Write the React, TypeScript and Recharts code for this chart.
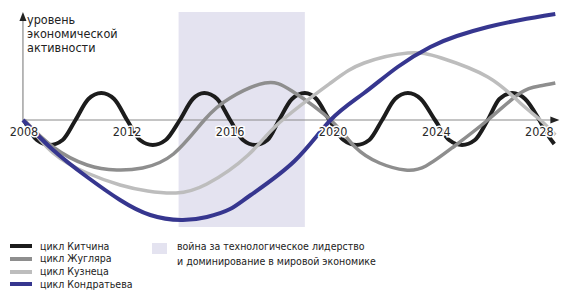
import { Line, LineChart, ReferenceArea, ReferenceLine, XAxis, YAxis } from "recharts";

const FONT = "'Liberation Sans Narrow', 'DejaVu Sans Condensed', 'Arial Narrow', sans-serif";

// years on the x axis, values = height above the zero line
const kitchinYears = [
  2008, 2008.5, 2009, 2009.5, 2010, 2010.5, 2011, 2011.5, 2012, 2012.5, 2013, 2013.5, 2014.05, 2014.55, 2015,
  2015.5, 2016, 2016.5, 2016.97, 2017.45, 2017.9, 2018.4, 2018.9, 2019.35, 2019.85, 2020.4, 2020.9, 2021.4,
  2021.9, 2022.4, 2022.9, 2023.4, 2023.95, 2024.5, 2025, 2025.5, 2026, 2026.45, 2026.95, 2027.45, 2028, 2028.3,
  2028.58,
];
const kitchinValues = [
  0, -20, -25, -20, 0, 21, 27, 21, 0, -20, -25, -20, 0, 21, 27, 21, 0, -20, -25, -20, 0, 21, 27, 21, 0, -20, -25,
  -20, 0, 21, 27, 21, 0, -20, -25, -20, 0, 21, 27, 21, 0, -14, -24,
];

const juglarYears = [
  2008, 2009.13, 2010.45, 2011.6, 2012.6, 2013.8, 2015, 2016, 2017.35, 2018.4, 2019.9, 2020.85, 2021.8, 2022.8,
  2023.6, 2024.66, 2026, 2027.26, 2028, 2028.62,
];
const juglarValues = [0, -27, -45, -50, -48, -34, 0, 22, 37, 29, 0, -27, -43, -50, -46, -27, 0, 27, 34, 37];

const kuznetsYears = [
  2008, 2009.13, 2010.45, 2011.73, 2012.8, 2013.9, 2015.1, 2016.7, 2017.9, 2019.9, 2021.2, 2022.9, 2024.2, 2026,
  2027.26, 2028.04, 2028.62,
];
const kuznetsValues = [0, -33, -53, -65, -71, -73, -64, -35, -3, 37, 57, 67, 62, 43, 17, 0, -15];

const kondratievYears = [
  2007.96, 2009.13, 2010.45, 2011.73, 2012.9, 2014.1, 2015.1, 2016, 2016.8, 2018.5, 2019.9, 2021.2, 2022.5, 2023.77,
  2024.8, 2026, 2027.26, 2028.62,
];
const kondratievValues = [0, -30, -57, -80, -95, -100, -97, -89, -75, -41, 0, 27, 53, 73, 84, 93, 100, 106];

const tickYears = [2008, 2012, 2016, 2020, 2024, 2028];
const warYears = [2014, 2018.9];

const zip = (years: number[], values: number[]) => years.map((year, i) => ({ year, value: values[i] }));

const series = [
  { name: "цикл Китчина", color: "#1c1c1c", width: 4, curve: "monotone", data: zip(kitchinYears, kitchinValues) },
  { name: "цикл Жугляра", color: "#8e8e8e", width: 3.5, curve: "natural", data: zip(juglarYears, juglarValues) },
  { name: "цикл Кузнеца", color: "#bdbdbd", width: 3.5, curve: "natural", data: zip(kuznetsYears, kuznetsValues) },
  { name: "цикл Кондратьева", color: "#36368f", width: 4, curve: "natural", data: zip(kondratievYears, kondratievValues) },
];

const AXIS = "#8a8a8a";
const tickData = tickYears.map((year) => ({ year, value: 0 }));

function YearTick(props: any) {
  const { cx, cy, payload } = props;
  return (
    <text
      key={payload.year}
      x={cx}
      y={cy + 16}
      textAnchor="middle"
      fontFamily={FONT}
      fontSize={12.5}
      fill="#2a2a2a"
      stroke="#fff"
      strokeWidth={3}
      paintOrder="stroke"
    >
      {payload.year}
    </text>
  );
}

function Arrow(props: any) {
  const { cx, cy, payload } = props;
  if (cx == null || cy == null) return null;
  const d =
    payload.dir === "right"
      ? `M${cx + 2},${cy} L${cx - 7},${cy - 3.5} L${cx - 7},${cy + 3.5} Z`
      : `M${cx},${cy - 2} L${cx - 3.5},${cy + 7} L${cx + 3.5},${cy + 7} Z`;
  return <path key={payload.dir} d={d} fill="#222" />;
}

const arrowData = [
  { year: 2028.7, value: 0, dir: "right" },
  { year: 2007.96, value: 106, dir: "up" },
];

export default function App() {
  return (
    <div style={{ position: "absolute", left: 0, top: 0, width: 562, height: 306, background: "#fff" }}>
      <LineChart width={562} height={306} margin={{ top: 10, right: 0, bottom: 76, left: 21.4 }}>
        <XAxis type="number" dataKey="year" domain={[2007.9, 2028.88]} hide />
        <YAxis type="number" domain={[-110, 110]} hide />
        <ReferenceArea x1={warYears[0]} x2={warYears[1]} y1={-107} y2={108} fill="#e4e3f0" fillOpacity={1} stroke="none" />
        <ReferenceLine segment={[{ x: 2007.96, y: 0 }, { x: 2028.7, y: 0 }]} stroke={AXIS} strokeWidth={1.2} />
        <ReferenceLine segment={[{ x: 2007.96, y: 0 }, { x: 2007.96, y: 104 }]} stroke={AXIS} strokeWidth={1.2} />
        {series.map((s) => (
          <Line
            key={s.name}
            data={s.data}
            dataKey="value"
            type={s.curve as any}
            stroke={s.color}
            strokeWidth={s.width}
            dot={false}
            activeDot={false}
            isAnimationActive={false}
          />
        ))}
        <Line data={tickData} dataKey="value" stroke="none" dot={<YearTick />} activeDot={false} isAnimationActive={false} />
        <Line data={arrowData} dataKey="value" stroke="none" dot={<Arrow />} activeDot={false} isAnimationActive={false} />
      </LineChart>

      <div style={{ position: "absolute", left: 27, top: 13, fontFamily: FONT, fontSize: 12.5, lineHeight: "14px", color: "#222" }}>
        уровень
        <br />
        экономической
        <br />
        активности
      </div>

      <div style={{ position: "absolute", left: 10, top: 239.6, fontFamily: FONT, fontSize: 10.5, color: "#222" }}>
        {series.map((s) => (
          <div key={s.name} style={{ display: "flex", alignItems: "center", height: 12.8, lineHeight: "12.8px" }}>
            <span style={{ display: "inline-block", width: 22, height: 4, background: s.color, marginRight: 8 }} />
            {s.name}
          </div>
        ))}
      </div>

      <div style={{ position: "absolute", left: 152, top: 238.5, fontFamily: FONT, fontSize: 10.5, color: "#222", display: "flex" }}>
        <span style={{ display: "inline-block", width: 15, height: 11, background: "#e4e3f0", marginTop: 4, marginRight: 10 }} />
        <div style={{ lineHeight: "15px" }}>
          война за технологическое лидерство
          <br />и доминирование в мировой экономике
        </div>
      </div>
    </div>
  );
}
